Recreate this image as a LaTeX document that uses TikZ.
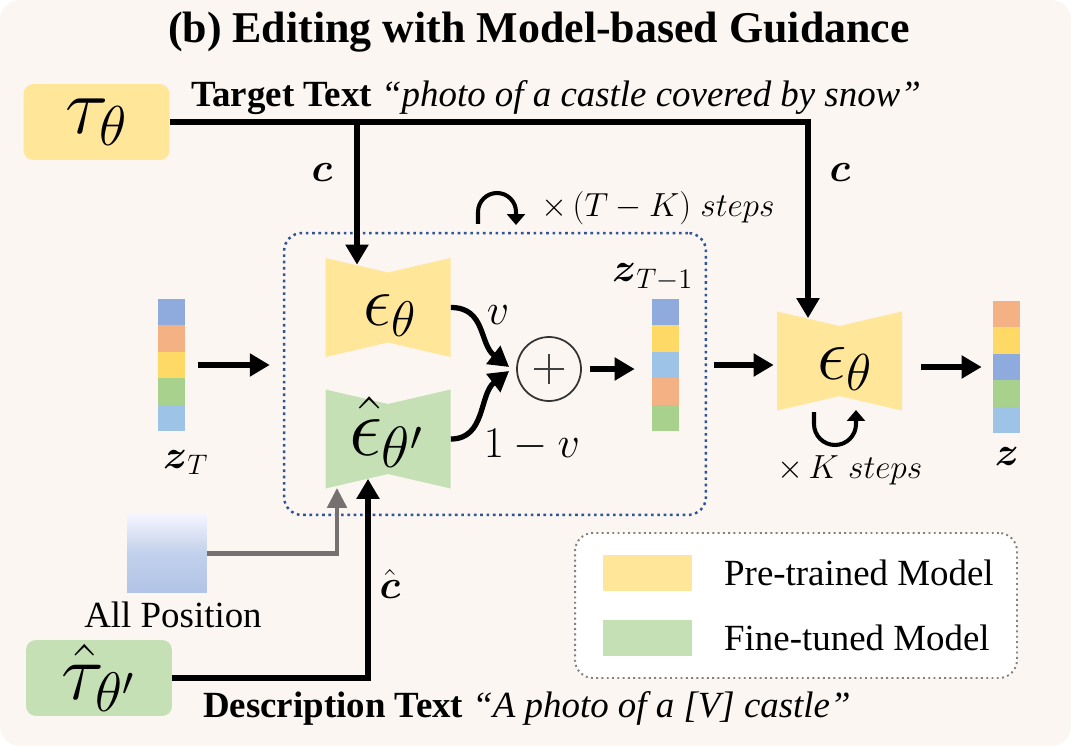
\RequirePackage{fix-cm}
\documentclass[tikz,border=0pt]{standalone}
\usepackage{amsmath,amssymb}
\usepackage{graphicx}
\usepackage{fontspec}
\setmainfont{Liberation Serif}
\usepackage{tikz}
\usepackage{xcolor}
\usetikzlibrary{arrows.meta,positioning,calc}

\definecolor{bgpeach}{HTML}{FBF6F2}
\definecolor{pretrain}{HTML}{FFE699}
\definecolor{finetune}{HTML}{C5E0B4}
\definecolor{vblue}{HTML}{8FAADC}
\definecolor{vorange}{HTML}{F4B183}
\definecolor{vyellow}{HTML}{FFD966}
\definecolor{vgreen}{HTML}{A9D18E}
\definecolor{vsky}{HTML}{9DC3E6}
\definecolor{loopblue}{HTML}{2F5597}
\definecolor{posgray}{HTML}{767171}
\definecolor{leggray}{HTML}{808080}

\begin{document}
\begin{tikzpicture}[x=0.02cm,y=-0.02cm,
    font=\fontsize{21}{25}\selectfont,
    flow/.style={line width=3pt,-{Triangle[length=0.4cm,width=0.44cm]}},
    posflow/.style={line width=2.8pt,draw=posgray,-{Triangle[length=0.4cm,width=0.38cm]}},
    loopflow/.style={line width=2.3pt,-{Triangle[length=0.22cm,width=0.36cm]}},
    encoder/.style={rounded corners=0.2cm,minimum width=2.92cm,minimum height=1.52cm,
      inner sep=0pt,font=\fontsize{24}{28}\selectfont},
    unet/.style={minimum width=2.5cm,minimum height=1.98cm,inner sep=0pt},
    latent/.style={minimum width=0.54cm,minimum height=2.64cm,inner sep=0pt},
    swatch/.style={minimum width=1.78cm,minimum height=0.72cm,inner sep=0pt},
    bigmath/.style={font=\fontsize{24}{28}\selectfont},
    vecmath/.style={font=\fontsize{23}{27}\selectfont},
    stepmath/.style={font=\fontsize{19}{23}\selectfont},
  ]
  \useasboundingbox (0,0) rectangle (1071,746);

  % Draw the background
  \fill[bgpeach,rounded corners=0.4cm] (0,0) rectangle (1071,746);

  % Draw the title
  \node[anchor=base,font=\fontsize{25}{30}\selectfont\bfseries] (title) at (539,43)
    {(b) Editing with Model-based Guidance};

  % Draw the text encoders
  \node[encoder,fill=pretrain] (tau) at (96.5,122) {\resizebox{1.26cm}{!}{$\tau_\theta$}};
  \node[encoder,fill=finetune] (taud) at (99,678) {\resizebox{1.5cm}{!}{$\hat{\tau}_{\theta'}$}};
  \node[anchor=base west] (tgt) at (185,107)
    {\textbf{Target Text} \textit{“photo of a castle covered by snow”}};
  \node[anchor=base west] (desc) at (197,717)
    {\textbf{Description Text} \textit{“A photo of a [V] castle”}};

  % Draw the U-Nets as bow ties
  \foreach \cx/\cy/\col in {388/307.5/pretrain, 388/439/finetune, 839.5/361/pretrain}
    \fill[\col,shift={(\cx,\cy)}] (-62.5,-49.5) -- (0,-35) -- (62.5,-49.5)
      -- (62.5,49.5) -- (0,35) -- (-62.5,49.5) -- cycle;
  \node[unet] (eps1) at (388,307.5) {};
  \node[unet] (eps2) at (388,439) {};
  \node[unet] (eps3) at (839.5,361) {};
  \node[bigmath,anchor=base] (eps1txt) at (390,326) {\resizebox{1.08cm}{!}{$\epsilon_\theta$}};
  \node[bigmath,anchor=base] (eps2txt) at (387,455) {\resizebox{1.52cm}{!}{$\hat{\epsilon}_{\theta'}$}};
  \node[bigmath,anchor=base] (eps3txt) at (845,379) {\resizebox{1.12cm}{!}{$\epsilon_\theta$}};

  % Draw the guidance loop box
  \node[draw=loopblue,line width=1.4pt,dash pattern=on 1.5pt off 2.1pt,
    rounded corners=0.36cm,minimum width=8.44cm,minimum height=5.64cm] (loop) at (495,374) {};

  % Draw the latent vectors
  \foreach \col [count=\i] in {vblue,vorange,vyellow,vgreen,vsky}
    \fill[\col] (158,{299+26.4*(\i-1)}) rectangle ++(27,26.4);
  \foreach \col [count=\i] in {vblue,vyellow,vsky,vorange,vgreen}
    \fill[\col] (652,{299+26.4*(\i-1)}) rectangle ++(27,26.4);
  \foreach \col [count=\i] in {vorange,vyellow,vblue,vgreen,vsky}
    \fill[\col] (993,{301+26.4*(\i-1)}) rectangle ++(27,26.4);
  \node[latent] (zT) at (171.5,365) {};
  \node[latent] (zT1) at (665.5,365) {};
  \node[latent] (z) at (1006.5,367) {};
  \node[vecmath,anchor=base west] (zTlbl) at (157,468) {$\boldsymbol{z}_T$};
  \node[vecmath,anchor=base west] (zT1lbl) at (606,282) {$\boldsymbol{z}_{T-1}$};
  \node[vecmath,anchor=base] (zlbl) at (1007,465) {$\boldsymbol{z}$};

  % Draw the sum node
  \node[circle,draw=black!80,line width=1pt,minimum size=1.28cm,inner sep=0pt] (oplus) at (549,369) {};
  \draw[black!75,line width=0.9pt] ($(oplus)+(-15,0)$) -- ($(oplus)+(15,0)$)
    ($(oplus)+(0,-15)$) -- ($(oplus)+(0,15)$);

  % Draw the condition arrows
  \coordinate (in1) at ($(eps1.north)+(-31,7)$);
  \coordinate (in3) at ($(eps3.north)+(-31.5,7)$);
  \draw[flow] (tau.east) -| (in3);
  \draw[flow] (in1 |- tau.east) -- (in1);
  \node[vecmath,anchor=base] (c1) at (322,182) {$\boldsymbol{c}$};
  \node[vecmath,anchor=base] (c2) at (840,182) {$\boldsymbol{c}$};

  \coordinate (in2) at ($(eps2.south)+(-20,-10)$);
  \draw[flow] (taud.east) -| (in2);
  \node[vecmath,anchor=base] (chat) at (390,598) {$\hat{\boldsymbol{c}}$};

  % Draw the position input
  \node[minimum width=1.6cm,minimum height=1.58cm,inner sep=0pt,
    top color=blue!4!white,bottom color=vblue!70!white,middle color=vblue!55!white] (allpos) at (167,553.5) {};
  \node[anchor=base] (poslbl) at (173,627) {All Position};
  \coordinate (inp) at ($(eps2.south)+(-51,-1)$);
  \draw[posflow] (allpos.east) -| (inp);

  % Draw the flow of latents
  \draw[flow,shorten <=0.26cm,shorten >=0.26cm] (zT.east) -- (zT.east -| loop.west);
  \draw[flow] (eps1.east) .. controls +(35,0) and +(-30,-23) .. ($(oplus.west)+(-7,-2)$);
  \draw[flow] (eps2.east) .. controls +(35,0) and +(-30,23) .. ($(oplus.west)+(-7,2)$);
  \node[font=\fontsize{25}{30}\selectfont,anchor=base] (wv) at (498,325) {$v$};
  \node[font=\fontsize{25}{30}\selectfont,anchor=base] (wv1) at (532,457) {$1-v$};
  \draw[flow,shorten <=0.16cm,shorten >=0.34cm] (oplus.east) -- (oplus.east -| zT1.west);
  \draw[flow,shorten <=0.14cm,shorten >=0.06cm] (zT1.east -| loop.east) -- (zT1.east -| eps3.west);
  \draw[flow,shorten <=0.38cm,shorten >=0.22cm] (z.west -| eps3.east) -- (z.west);

  % Draw the repeat loops
  \draw[loopflow] (478,224) -- (478,212) arc[start angle=180,end angle=360,radius=19] -- (516,225);
  \node[stepmath,anchor=base west] (tksteps) at (535,217) {$\times\,(T-K)\;steps$};
  \draw[loopflow] (814,412) -- (814,424) arc[start angle=180,end angle=0,radius=21] -- (856,410);
  \node[stepmath,anchor=base west] (ksteps) at (771,478) {$\times\,K\;steps$};

  % Draw the legend
  \node[draw=leggray,fill=white,line width=1.1pt,dash pattern=on 1.1pt off 1.9pt,
    rounded corners=0.36cm,minimum width=8.84cm,minimum height=2.9cm] (legend) at (796,605.5) {};
  \node[swatch,fill=pretrain] (sw1) at (647.5,573) {};
  \node[swatch,fill=finetune] (sw2) at (647.5,638) {};
  \node[anchor=base west] (lg1) at (718,585) {Pre-trained Model};
  \node[anchor=base west] (lg2) at (718,650) {Fine-tuned Model};
\end{tikzpicture}
\end{document}
